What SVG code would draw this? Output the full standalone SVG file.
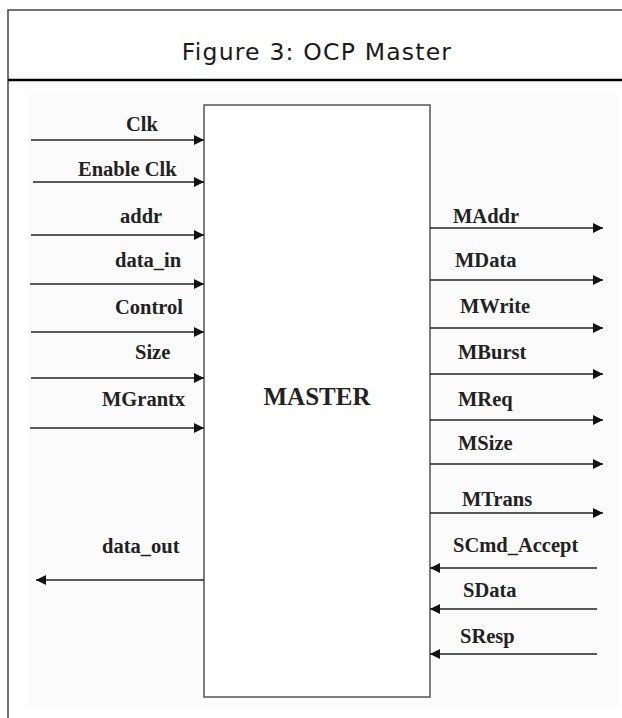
<svg xmlns="http://www.w3.org/2000/svg" width="622" height="718" viewBox="0 0 622 718">
  <style>
    .frame { fill: none; stroke: #444; stroke-width: 1.5; }
    .rule { stroke: #000; stroke-width: 2.5; }
    .title { font-family: "DejaVu Sans", "Liberation Sans", sans-serif; font-size: 23.5px; fill: #1a1a1a; letter-spacing: 1.2px; }
    .block { fill: #fff; stroke: #555; stroke-width: 1.5; }
    .sig { font-family: "Liberation Serif", "Times New Roman", serif; font-weight: bold; font-size: 20.5px; fill: #222; }
    .big { font-family: "Liberation Serif", "Times New Roman", serif; font-weight: bold; font-size: 25px; fill: #222; }
    .wire { stroke: #222; stroke-width: 1.6; fill: none; }
  </style>
  <defs>
    <marker id="ah" viewBox="0 0 10 10" refX="10" refY="5" markerWidth="10" markerHeight="10" markerUnits="userSpaceOnUse" orient="auto">
      <path d="M0,0 L10,5 L0,10 z" fill="#111"/>
    </marker>
  </defs>

  <!-- page background and figure frame -->
  <rect x="0" y="0" width="622" height="718" fill="#fff"/>
  <rect x="27" y="95" width="590" height="612" fill="#fbfbfb"/>
  <path class="frame" d="M8,718 V10 H622"/>
  <line class="rule" x1="8" y1="80" x2="622" y2="80"/>
  <text class="title" x="317" y="60" text-anchor="middle">Figure 3: OCP Master</text>

  <!-- master block -->
  <g id="master">
    <rect class="block" x="204" y="105" width="226" height="592"/>
    <text class="big" x="317" y="405" text-anchor="middle">MASTER</text>
  </g>

  <!-- signal labels -->
  <g id="labels">
    <text class="sig" x="126" y="131">Clk</text>
    <text class="sig" x="78" y="176">Enable Clk</text>
    <text class="sig" x="120" y="223">addr</text>
    <text class="sig" x="115" y="267">data_in</text>
    <text class="sig" x="115" y="314">Control</text>
    <text class="sig" x="135" y="359">Size</text>
    <text class="sig" x="102" y="406">MGrantx</text>
    <text class="sig" x="102" y="553">data_out</text>

    <text class="sig" x="453" y="223">MAddr</text>
    <text class="sig" x="455" y="267">MData</text>
    <text class="sig" x="460" y="313">MWrite</text>
    <text class="sig" x="458" y="359">MBurst</text>
    <text class="sig" x="458" y="406">MReq</text>
    <text class="sig" x="458" y="450">MSize</text>
    <text class="sig" x="462" y="506">MTrans</text>
    <text class="sig" x="453" y="552">SCmd_Accept</text>
    <text class="sig" x="463" y="597">SData</text>
    <text class="sig" x="460" y="643">SResp</text>
  </g>

  <!-- connectors -->
  <g id="connectors">
    <line class="wire" x1="31" y1="140" x2="204" y2="140" marker-end="url(#ah)"/>
    <line class="wire" x1="33" y1="182" x2="204" y2="182" marker-end="url(#ah)"/>
    <line class="wire" x1="31" y1="235" x2="204" y2="235" marker-end="url(#ah)"/>
    <line class="wire" x1="30" y1="284" x2="204" y2="284" marker-end="url(#ah)"/>
    <line class="wire" x1="31" y1="332" x2="204" y2="332" marker-end="url(#ah)"/>
    <line class="wire" x1="31" y1="378" x2="204" y2="378" marker-end="url(#ah)"/>
    <line class="wire" x1="30" y1="428" x2="204" y2="428" marker-end="url(#ah)"/>
    <line class="wire" x1="204" y1="580" x2="36" y2="580" marker-end="url(#ah)"/>

    <line class="wire" x1="430" y1="228" x2="603" y2="228" marker-end="url(#ah)"/>
    <line class="wire" x1="430" y1="280" x2="603" y2="280" marker-end="url(#ah)"/>
    <line class="wire" x1="430" y1="328" x2="603" y2="328" marker-end="url(#ah)"/>
    <line class="wire" x1="430" y1="374" x2="603" y2="374" marker-end="url(#ah)"/>
    <line class="wire" x1="430" y1="420" x2="603" y2="420" marker-end="url(#ah)"/>
    <line class="wire" x1="430" y1="464" x2="603" y2="464" marker-end="url(#ah)"/>
    <line class="wire" x1="430" y1="513" x2="603" y2="513" marker-end="url(#ah)"/>
    <line class="wire" x1="597" y1="568" x2="430" y2="568" marker-end="url(#ah)"/>
    <line class="wire" x1="597" y1="609" x2="430" y2="609" marker-end="url(#ah)"/>
    <line class="wire" x1="597" y1="654" x2="430" y2="654" marker-end="url(#ah)"/>
  </g>
</svg>
